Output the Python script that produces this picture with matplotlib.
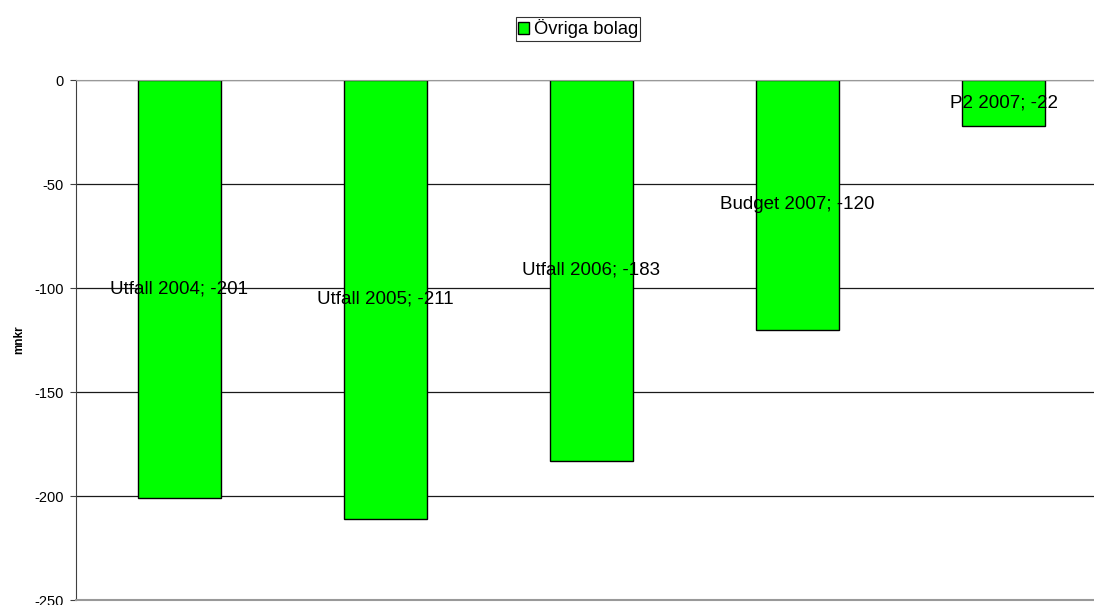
import matplotlib.pyplot as plt
from matplotlib.patches import Patch

categories = ['Utfall 2004', 'Utfall 2005', 'Utfall 2006', 'Budget 2007', 'P2 2007']
values = [-201, -211, -183, -120, -22]
series_name = 'Övriga bolag'
yticks = [0, -50, -100, -150, -200, -250]

plt.rcParams['font.family'] = ['Liberation Sans', 'DejaVu Sans']

fig = plt.figure(figsize=(10.94, 6.05), dpi=100)
# plot area runs past the right edge of the canvas
ax = fig.add_axes([76 / 1094, 5 / 605, 1031 / 1094, 520 / 605])

x = list(range(len(categories)))
ax.bar(x, values, width=0.403, color='#00ff00', edgecolor='black', linewidth=1, zorder=2)

# data labels sit in the middle of each bar
for xi, cat, v in zip(x, categories, values):
    ax.text(xi, v / 2, f'{cat}; {v}', ha='center', va='center', fontsize=13.5, zorder=3)

ax.set_xlim(-0.5, len(categories) - 0.5)
ax.set_ylim(-250, 0)
ax.set_yticks(yticks)
ax.set_yticklabels([str(t) for t in yticks], fontsize=10.5)
ax.set_xticks([])
ax.yaxis.grid(True, color='#1a1a1a', linewidth=0.9, zorder=0)
ax.set_axisbelow(True)
ax.tick_params(axis='y', length=4, color='#404040', pad=5)

ax.spines['right'].set_visible(False)
ax.spines['left'].set_color('#404040')
ax.spines['top'].set_color('#999999')
ax.spines['bottom'].set_color('#999999')
ax.spines['bottom'].set_linewidth(1.5)

ax.set_ylabel('mnkr', fontsize=8.5, fontweight='bold', labelpad=6)

handle = Patch(facecolor='#00ff00', edgecolor='black', linewidth=1)
leg = fig.legend([handle], [series_name], loc='center', bbox_to_anchor=(578 / 1094, 1 - 29 / 605),
                 fontsize=13.2, frameon=True, fancybox=False, edgecolor='black',
                 handlelength=0.6, handleheight=0.6, handletextpad=0.25, borderpad=0.12,
                 borderaxespad=0)
leg.get_frame().set_linewidth(0.8)

fig.savefig('out.png', dpi=100)
